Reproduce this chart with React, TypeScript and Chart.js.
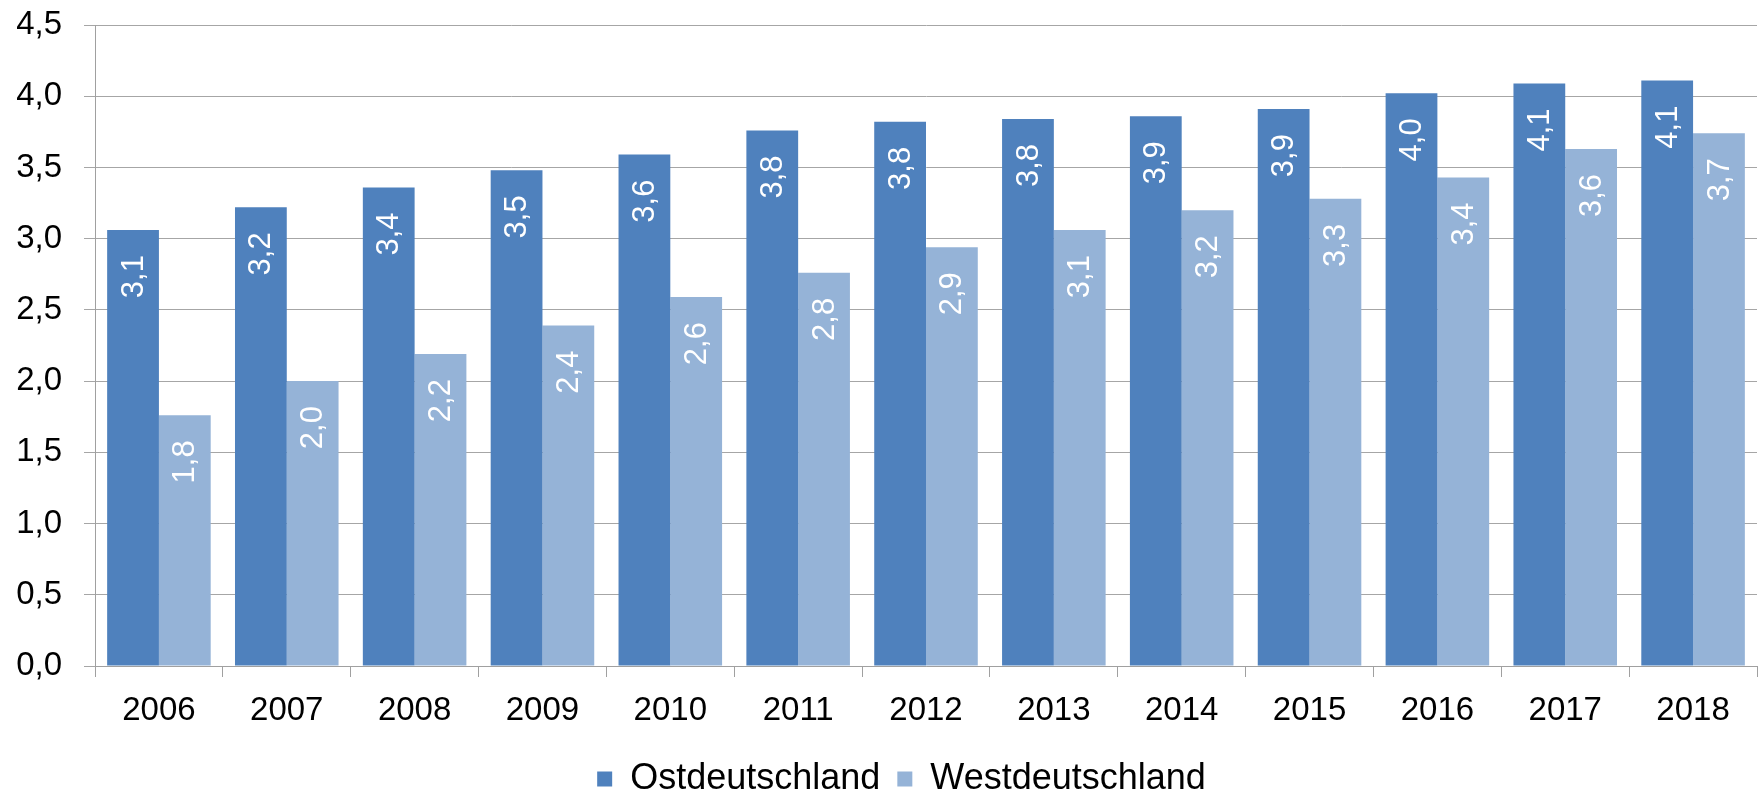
import React, { useEffect, useRef } from "react";
import { Chart, registerables } from "chart.js";

Chart.register(...registerables);

const years = ["2006", "2007", "2008", "2009", "2010", "2011", "2012", "2013", "2014", "2015", "2016", "2017", "2018"];
const ostValues = [3.06, 3.22, 3.36, 3.48, 3.59, 3.76, 3.82, 3.84, 3.86, 3.91, 4.02, 4.09, 4.11];
const westValues = [1.76, 2.0, 2.19, 2.39, 2.59, 2.76, 2.94, 3.06, 3.2, 3.28, 3.43, 3.63, 3.74];
const seriesNames = ["Ostdeutschland", "Westdeutschland"];
const seriesColors = ["#4F81BD", "#95B3D7"];

const FONT = "'Liberation Sans', Arial, sans-serif";

const fmt = (v: number) => v.toFixed(1).replace(".", ",");

const valueLabelPlugin = {
  id: "valueLabels",
  afterLayout(chart: any) {
    const lg = chart.legend;
    if (lg) {
      lg.left += 23;
      lg.right += 23;
    }
  },
  afterDatasetsDraw(chart: any) {
    const ctx = chart.ctx;
    chart.data.datasets.forEach((ds: any, i: number) => {
      const meta = chart.getDatasetMeta(i);
      meta.data.forEach((bar: any, j: number) => {
        const v = ds.data[j];
        ctx.save();
        ctx.translate(bar.x + 1, bar.y + 25);
        ctx.rotate(-Math.PI / 2);
        ctx.fillStyle = "#FFFFFF";
        ctx.font = `31px ${FONT}`;
        ctx.textAlign = "right";
        ctx.textBaseline = "middle";
        ctx.fillText(fmt(v), 0, 0);
        ctx.restore();
      });
    });
  },
};

export default function App() {
  const canvasRef = useRef<HTMLCanvasElement | null>(null);

  useEffect(() => {
    document.body.style.margin = "0";
    const canvas = canvasRef.current;
    if (!canvas) return;
    const chart = new Chart(canvas, {
      type: "bar",
      data: {
        labels: years,
        datasets: [
          {
            label: seriesNames[0],
            data: ostValues,
            backgroundColor: seriesColors[0],
            categoryPercentage: 0.81,
            barPercentage: 1.0,
          },
          {
            label: seriesNames[1],
            data: westValues,
            backgroundColor: seriesColors[1],
            categoryPercentage: 0.81,
            barPercentage: 1.0,
          },
        ],
      },
      options: {
        animation: false,
        responsive: false,
        maintainAspectRatio: false,
        layout: { padding: { top: 25, right: 3, left: 0, bottom: -16 } },
        plugins: {
          tooltip: { enabled: false },
          legend: {
            position: "bottom",
            labels: {
              boxWidth: 15,
              boxHeight: 15,
              padding: 17,
              color: "#000000",
              font: { family: FONT, size: 36 },
            },
          },
        },
        scales: {
          x: {
            afterFit: (scale: any) => {
              scale.height = 78;
            },
            grid: {
              display: true,
              drawOnChartArea: false,
              drawTicks: true,
              tickLength: 11,
              color: "#A0A0A0",
            },
            border: { display: true, color: "#A0A0A0", width: 1 },
            ticks: {
              color: "#000000",
              font: { family: FONT, size: 33 },
              padding: 14,
              maxRotation: 0,
            },
          },
          y: {
            min: 0,
            max: 4.5,
            afterFit: (scale: any) => {
              scale.width = 95;
              scale.paddingTop = 0;
              scale.paddingBottom = 0;
            },
            grid: {
              color: "#A6A6A6",
              tickLength: 11,
            },
            border: { display: true, color: "#A0A0A0", width: 1 },
            ticks: {
              stepSize: 0.5,
              color: "#000000",
              padding: 22,
              font: { family: FONT, size: 33 },
              callback: (v: any) => fmt(Number(v)),
            },
          },
        },
      },
      plugins: [valueLabelPlugin],
    });
    return () => chart.destroy();
  }, []);

  return (
    <div style={{ position: "absolute", left: 0, top: 0, width: 1760, height: 791, background: "#FFFFFF" }}>
      <canvas ref={canvasRef} width={1760} height={791} style={{ width: 1760, height: 791, display: "block" }} />
    </div>
  );
}
